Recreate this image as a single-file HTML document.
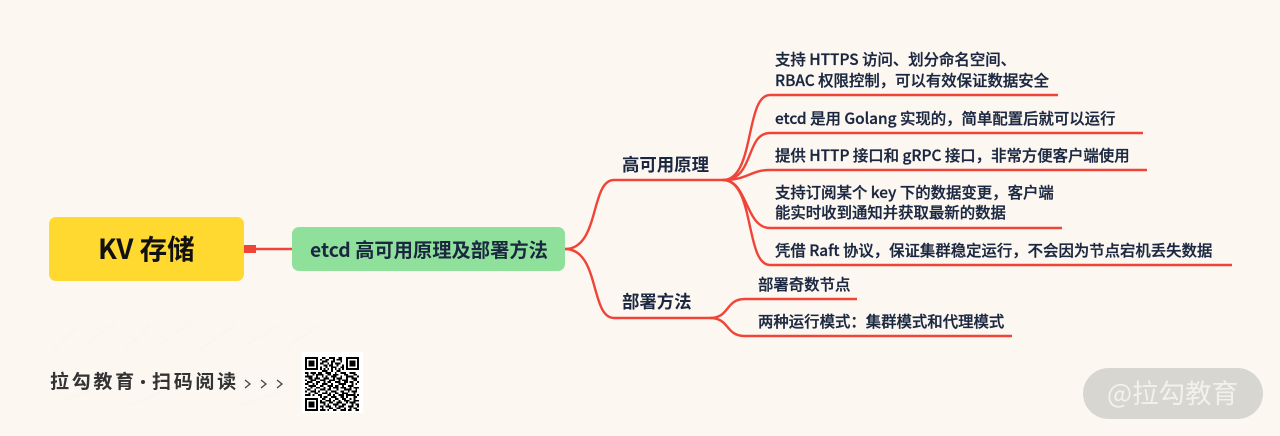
<!DOCTYPE html>
<html lang="zh-CN">
<head>
<meta charset="utf-8">
<title>KV 存储</title>
<style>
html,body{margin:0;padding:0;background:#FCF8F1;}
body{width:1280px;height:436px;overflow:hidden;}
svg{display:block;}
text{font-family:"Liberation Sans","Noto Sans CJK SC",sans-serif;}
.cjk{font-family:"Noto Sans CJK SC","Liberation Sans",sans-serif;}
.t{font-size:15.4px;font-weight:500;fill:#1B2740;stroke:#1B2740;stroke-width:.3px;}
.h{font-size:17.4px;font-weight:700;fill:#1B2740;}
</style>
</head>
<body>
<svg width="1280" height="436" viewBox="0 0 1280 436" xmlns="http://www.w3.org/2000/svg">
<rect width="1280" height="436" fill="#FCF8F1"/>

<!-- faint watermark -->
<g stroke="#FAF6EF" stroke-width="2" fill="none">
<path d="M52 350 L80 325 M85 345 L115 322 M125 350 L150 325 M160 345 L190 322 M200 350 L235 325 M245 345 L280 325 M285 348 L320 325"/>
<path d="M60 400 L110 385 M130 405 L180 385 M240 405 L290 390"/>
</g>

<!-- connectors -->
<g fill="none" stroke="#F04438" stroke-width="2.4">
<path d="M256 249 H292" stroke-width="2.6"/>
<path d="M565 249 C600 249 590 180 614 180 H723"/>
<path d="M565 249 C600 249 590 318 614 318 H710"/>
<path d="M723 180 C755 180 745 95 770 95 H1058"/>
<path d="M723 180 C755 180 745 133 770 133 H1143"/>
<path d="M723 180 C748 180 750 170 770 170 H1147"/>
<path d="M723 180 C748 180 745 228 770 228 H1062"/>
<path d="M723 180 C755 180 745 265 770 265 H1232"/>
<path d="M710 318 C730 318 725 299 745 299 H857"/>
<path d="M710 318 C730 318 725 336 745 336 H1012"/>
</g>
<rect x="244" y="245" width="12" height="8" fill="#F04438"/>

<!-- nodes -->
<rect x="49" y="217" width="195" height="64" rx="7" fill="#FFD830"/>
<text class="cjk" x="98" y="259" font-size="27.5" font-weight="700" fill="#111">KV 存储</text>
<rect x="292" y="227" width="273" height="44" rx="7" fill="#8FE09B"/>
<text class="cjk" x="310" y="257" font-size="19.3" font-weight="700" fill="#1B2740">etcd 高可用原理及部署方法</text>

<text class="cjk h" x="622" y="171">高可用原理</text>
<text class="cjk h" x="622" y="308">部署方法</text>

<!-- leaves -->
<text class="cjk t" x="775" y="65">支持 HTTPS 访问、划分命名空间、</text>
<text class="cjk t" x="775" y="86">RBAC 权限控制，可以有效保证数据安全</text>
<text class="cjk t" x="775" y="124">etcd 是用 Golang 实现的，简单配置后就可以运行</text>
<text class="cjk t" x="775" y="161">提供 HTTP 接口和 gRPC 接口，非常方便客户端使用</text>
<text class="cjk t" x="775" y="198">支持订阅某个 key 下的数据变更，客户端</text>
<text class="cjk t" x="775" y="218">能实时收到通知并获取最新的数据</text>
<text class="cjk t" x="775" y="256">凭借 Raft 协议，保证集群稳定运行，不会因为节点宕机丢失数据</text>
<text class="cjk t" x="758" y="290">部署奇数节点</text>
<text class="cjk t" x="758" y="327">两种运行模式：集群模式和代理模式</text>

<!-- footer -->
<text class="cjk" x="50" y="388" font-size="19" font-weight="700" fill="#333" letter-spacing="2.7">拉勾教育</text>
<circle cx="143" cy="382" r="2" fill="#333"/>
<text class="cjk" x="152" y="388" font-size="19" font-weight="700" fill="#333" letter-spacing="2.7">扫码阅读</text>
<g fill="none" stroke="#444" stroke-width="1.3">
<path d="M245 380 L250 384 L245 388"/>
<path d="M261 380 L266 384 L261 388"/>
<path d="M277 380 L282 384 L277 388"/>
</g>

<!-- QR -->
<rect x="302" y="352" width="61" height="61" fill="#fff"/>
<svg x="305" y="357" width="54" height="54" viewBox="0 0 29 29" shape-rendering="crispEdges">
<path fill="#000" d="M0 0h7v7h-7zM1 1v5h5v-5zM2 2h3v3h-3z M22 0h7v7h-7zM23 1v5h5v-5zM24 2h3v3h-3z M0 22h7v7h-7zM1 23v5h5v-5zM2 24h3v3h-3z" fill-rule="evenodd"/>
<path stroke="#000" stroke-width="1" fill="none" transform="translate(0,.5)" d="
M9 0h2M13 0h3M18 0h2
M8 1h1M11 1h2M15 1h1M17 1h3
M9 2h3M14 2h2M19 2h1
M8 3h2M12 3h1M14 3h1M16 3h3
M10 4h2M13 4h2M17 4h1M20 4h1
M8 5h1M11 5h1M14 5h3M19 5h2
M8 6h1M10 6h1M12 6h1M14 6h1M16 6h1M18 6h1M20 6h1
M9 7h3M14 7h1M17 7h2
M0 8h2M3 8h3M7 8h2M11 8h3M16 8h1M19 8h3M24 8h3
M1 9h1M4 9h1M6 9h4M12 9h2M15 9h3M21 9h2M26 9h2
M0 10h4M6 10h1M9 10h1M11 10h1M14 10h3M19 10h1M22 10h4M28 10h1
M2 11h2M5 11h3M10 11h3M15 11h1M17 11h3M22 11h1M25 11h3
M0 12h1M3 12h3M8 12h3M13 12h3M18 12h1M20 12h3M26 12h2
M1 13h3M6 13h2M10 13h1M12 13h2M16 13h3M21 13h2M24 13h2M28 13h1
M0 14h2M4 14h1M6 14h1M9 14h3M14 14h1M18 14h4M25 14h1M27 14h1
M2 15h4M8 15h2M12 15h3M16 15h2M20 15h1M23 15h3
M0 16h1M3 16h1M6 16h2M10 16h1M13 16h1M15 16h3M19 16h3M24 16h1M26 16h3
M1 17h2M5 17h1M8 17h3M12 17h2M17 17h1M21 17h4M27 17h1
M0 18h1M3 18h3M7 18h1M11 18h1M14 18h3M19 18h2M23 18h1M25 18h3
M2 19h1M5 19h2M9 19h3M13 19h1M16 19h2M20 19h3M26 19h1
M0 20h3M4 20h1M7 20h2M12 20h2M15 20h1M18 20h3M22 20h5M28 20h1
M8 21h1M10 21h2M14 21h3M19 21h2M22 21h1M26 21h2
M9 22h2M13 22h1M16 22h2M20 22h2M24 22h1M26 22h1
M8 23h1M11 23h3M15 23h1M18 23h1M21 23h3M26 23h3
M8 24h3M13 24h2M17 24h3M22 24h1M24 24h3
M10 25h1M12 25h1M15 25h3M20 25h2M25 25h1M27 25h2
M8 26h2M11 26h3M16 26h1M18 26h3M23 26h3M28 26h1
M9 27h1M13 27h2M17 27h2M21 27h1M24 27h1M26 27h2
M8 28h3M12 28h1M15 28h2M19 28h3M23 28h2M27 28h2"/>
</svg>

<!-- badge -->
<rect x="1083" y="368" width="180" height="51" rx="25.5" fill="#D8D6D0"/>
<text class="cjk" x="1107" y="403" font-size="26.5" fill="#F3F1EC">@拉勾教育</text>
</svg>
</body>
</html>
